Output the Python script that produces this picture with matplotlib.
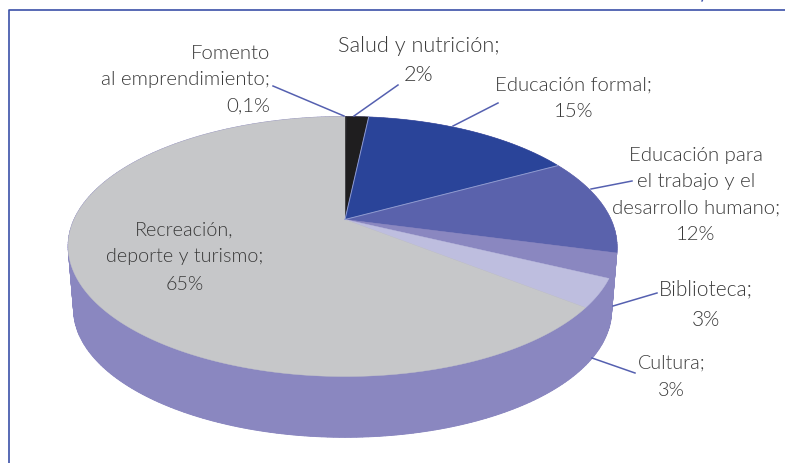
"""Investment share by sector, drawn as a tilted 3D-looking pie."""

import numpy as np
import matplotlib
matplotlib.use("Agg")
import matplotlib.pyplot as plt
from matplotlib.patches import Polygon

labels = [
    "Fomento\nal emprendimiento;\n0,1%",
    "Salud y nutrición;\n2%",
    "Educación formal;\n15%",
    "Educación para\nel trabajo y el\ndesarrollo humano;\n12%",
    "Biblioteca;\n3%",
    "Cultura;\n3%",
    "Recreación,\ndeporte y turismo;\n65%",
]
# slice sizes as measured; a touch off their printed labels in the picture
values = [0.1, 1.6, 15.4, 12, 3, 3.5, 64.4]
colors = ["#1f1e1f", "#1f1e1f", "#2a4499", "#5a62ac", "#8a87c0", "#bebedf", "#c6c7c9"]

SIDE = "#8a87c0"
LINE = "#5560b0"
TEXT = "#3a3a3a"

# projection of the unit disc, in picture pixels
CX, CY = 345.0, 220.5
RX, RY = 268.5, 124.4
K = 0.2076
SKEW = 2.5
DEPTH = 64.0
BOTTOM_SCALE = 0.98


def project(theta, scale=1.0, dy=0.0):
    """Clockwise angle from 12 o'clock -> pixel position on the tilted disc."""
    x = np.sin(theta)
    y = np.cos(theta)
    w = 1 + K * y
    return CX + scale * RX * x / w - SKEW * x ** 2, CY + dy - scale * RY * y / w


plt.rcParams["font.family"] = ["Lato", "DejaVu Sans"]
fig = plt.figure(figsize=(7.85, 4.64), dpi=100)
ax = fig.add_axes([0, 0, 1, 1])
ax.set_xlim(0, 785)
ax.set_ylim(464, 0)
ax.axis("off")

# side wall: bottom ring plus the strip joining it to the top ring
t = np.linspace(0, 2 * np.pi, 361)
tx, ty = project(t)
bx, by = project(t, scale=BOTTOM_SCALE, dy=DEPTH)
ax.add_patch(Polygon(np.column_stack([bx, by]), color=SIDE, lw=0))
for i in range(len(t) - 1):
    quad = [(tx[i], ty[i]), (tx[i + 1], ty[i + 1]), (bx[i + 1], by[i + 1]), (bx[i], by[i])]
    ax.add_patch(Polygon(quad, facecolor=SIDE, edgecolor=SIDE, lw=0.6))

# top face
edges = np.cumsum([0] + values) / sum(values) * 2 * np.pi
for start, end, color in zip(edges[:-1], edges[1:], colors):
    arc = np.linspace(start, end, max(2, int((end - start) * 90)))
    ax_, ay_ = project(arc)
    pts = np.column_stack([np.r_[CX, ax_], np.r_[CY, ay_]])
    ax.add_patch(Polygon(pts, facecolor=color, edgecolor=color, lw=0.3))
for edge in edges[2:4]:
    ex, ey = project(edge)
    ax.plot([CX, ex], [CY, ey], color="#8f9bd0", lw=0.7)

# leader lines
leaders = [
    ((273, 87), (344, 117)),
    ((398, 86), (354, 117)),
    ((498, 104), (453, 127)),
    ((632, 182), (591, 190)),
    ((657, 294), (613, 307)),
    ((635, 374), (592, 359)),
]
for a, b in leaders:
    ax.plot([a[0], b[0]], [a[1], b[1]], color=LINE, lw=1.1)

# label anchors: x, y of block centre, horizontal alignment, font size
anchors = [
    (270, 80, "right", 14.7),
    (419, 60.5, "center", 15.7),
    (573.5, 98.5, "center", 14.7),
    (696, 195, "center", 14.7),
    (705.5, 304.5, "center", 15),
    (671.5, 376.5, "center", 14.2),
    (184.5, 257, "center", 14.2),
]
for text, (x, y, ha, size) in zip(labels, anchors):
    # about 27 px between lines whatever the size
    ax.text(x, y, text, ha=ha, va="center", ma=ha, fontsize=size, color=TEXT,
            fontweight=300, linespacing=24.5 / size)

# blue frame, open at the right
ax.plot([785, 8.5, 8.5], [11, 11, 464], color="#3b50a8", lw=1.2)
ax.plot([703, 702], [0, 2], color="#3b50a8", lw=1.0)

fig.savefig("out.png", dpi=100)
